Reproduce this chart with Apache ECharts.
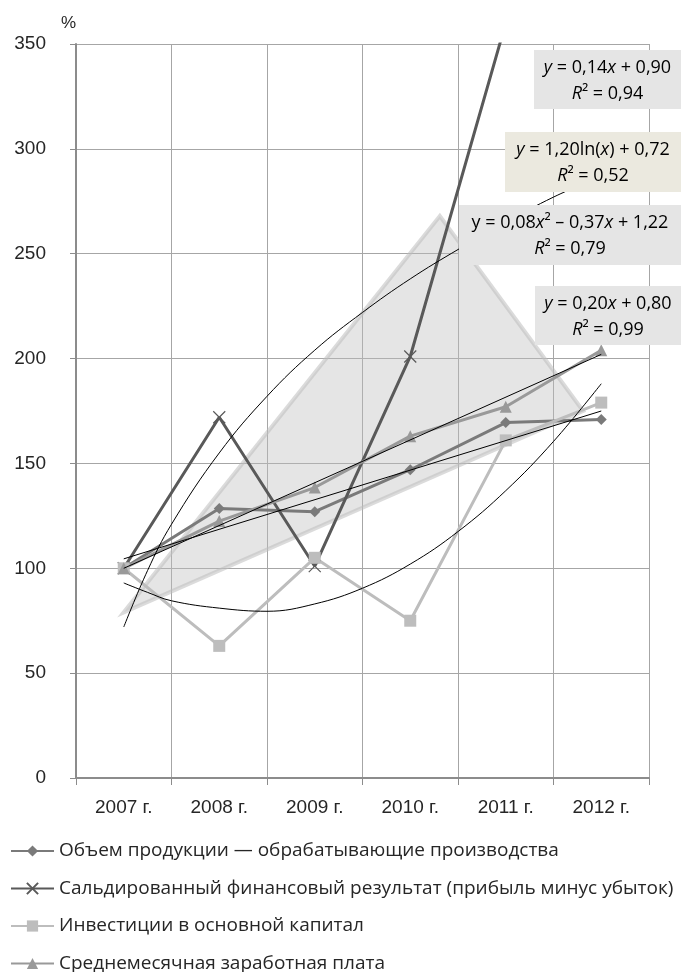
<!DOCTYPE html>
<html><head><meta charset="utf-8">
<script src="https://cdn.jsdelivr.net/npm/echarts@6/dist/echarts.min.js"></script>
<style>html,body{margin:0;padding:0;background:#fff}#c{width:681px;height:972px}</style>
</head><body><div id="c"></div><script>
// ---- data ----
const years = ['2007 г.', '2008 г.', '2009 г.', '2010 г.', '2011 г.', '2012 г.'];
const seriesNames = [
  'Объем продукции — обрабатывающие производства',
  'Сальдированный финансовый результат (прибыль минус убыток)',
  'Инвестиции в основной капитал',
  'Среднемесячная заработная плата'
];
const production = [100, 128.5, 127, 147, 169.5, 171];
const finResult = [100, 172, 101, 201, 360, 380];
const investment = [100, 63, 105, 75, 161, 179];
const wages = [100, 122.5, 138.5, 163, 177, 204];
// straight trend lines: end values read at 2007 and 2012
const trendProduction = [104.5, null, null, null, null, 175];
const trendWages = [100, null, null, null, null, 202];
// curved trend lines: positions in category-index units and values (%)
const curveX = [0, 0.25, 0.5, 1, 1.5, 2, 2.5, 3, 3.5, 4, 4.5, 5];
const trendFinResult = [72, 99, 121, 155, 182, 204, 222, 238, 252, 265, 277, 287];
const trendInvestment = [93, 88.5, 84.5, 81, 79.5, 83, 90.5, 102, 117.5, 137, 160.5, 188];
// shaded triangle (x in category-index units, y in %)
const shapeX = [0, 3.31, 4.81];
const shapeY = [79, 268, 175];
// y axis
const yMin = 0, yMax = 350, yStep = 50;
const yName = '%';
// equation labels
const equations = [
  '{i|y} = 0,14{i|x} + 0,90\n{i|R}² = 0,94',
  '{i|y} = 1,20ln({i|x}) + 0,72\n{i|R}² = 0,52',
  'y = 0,08{i|x}² – 0,37{i|x} + 1,22\n{i|R}² = 0,79',
  '{i|y} = 0,20{i|x} + 0,80\n{i|R}² = 0,99'
];

// ---- chart ----
const chart = echarts.init(document.getElementById('c'), null, {renderer: 'canvas'});
const axisCol = '#8c8c8c', gridCol = '#a6a6a6', txt = '#262626';
const eqFont = '"Open Sans", "Noto Sans", sans-serif';
const axFont = '"Liberation Sans", Arial, sans-serif';

function eqBox(i, x, y, w, h, fill) {
  return [
    {type: 'rect', z: 50, shape: {x: x, y: y, width: w, height: h}, style: {fill: fill}},
    {type: 'text', z: 51, x: x + w / 2, y: y + h / 2 + 1,
      style: {
        text: equations[i], align: 'center', verticalAlign: 'middle',
        fontSize: 18, fontFamily: eqFont, fill: '#000', lineHeight: 26,
        rich: {i: {fontStyle: 'italic', fontSize: 18, fontFamily: eqFont, fill: '#000', lineHeight: 26}}
      }}
  ];
}
function pairs(xs, ys) { return xs.map(function (x, k) { return [x, ys[k]]; }); }

const option = {
  backgroundColor: '#fff',
  animation: false,
  grid: {left: 76, right: 32, top: 44, bottom: 194, containLabel: false},
  xAxis: [{
    type: 'category', data: years, boundaryGap: true,
    axisLine: {lineStyle: {color: axisCol, width: 2}},
    axisTick: {show: true, length: 7, lineStyle: {color: axisCol}},
    splitLine: {show: true, lineStyle: {color: gridCol, width: 1}},
    axisLabel: {margin: 20, fontSize: 19, fontFamily: axFont, color: txt}
  }, {
    type: 'value', min: -0.5, max: 5.5, show: false
  }],
  yAxis: {
    type: 'value', min: yMin, max: yMax, interval: yStep,
    name: yName, nameLocation: 'end', nameGap: 12,
    nameTextStyle: {fontSize: 17, fontFamily: axFont, color: txt, align: 'right'},
    axisLine: {show: true, onZero: false, lineStyle: {color: axisCol, width: 2}},
    axisTick: {show: true, length: 6, lineStyle: {color: axisCol}},
    splitLine: {show: true, lineStyle: {color: gridCol, width: 1}},
    axisLabel: {margin: 30, fontSize: 19, fontFamily: axFont, color: txt}
  },
  legend: {
    data: seriesNames, orient: 'vertical', left: 10, top: 841, height: 200, padding: 0,
    itemWidth: 43, itemHeight: 14, itemGap: 17.5,
    textStyle: {fontSize: 19, fontFamily: eqFont, color: txt, lineHeight: 20}
  },
  graphic: [].concat(
    eqBox(0, 534, 50, 147, 59, '#e5e5e5'),
    eqBox(1, 505, 132, 176, 60, '#ebe9df'),
    eqBox(2, 459, 205, 222, 60, '#e5e5e5'),
    eqBox(3, 535, 286, 146, 59, '#e5e5e5')
  ),
  series: [
    {
      type: 'custom', xAxisIndex: 1, z: 1, silent: true, data: [0],
      renderItem: function (params, api) {
        const pts = shapeX.map(function (x, k) { return api.coord([x, shapeY[k]]); });
        return {type: 'polygon', shape: {points: pts},
          style: {fill: 'rgba(190,190,190,0.40)', stroke: 'rgba(190,190,190,0.55)', lineWidth: 4, lineJoin: 'miter'}};
      }
    },
    {
      name: seriesNames[0], type: 'line', data: production, z: 3,
      symbol: 'diamond', symbolSize: 11,
      itemStyle: {color: '#7a7a7a'}, lineStyle: {color: '#7a7a7a', width: 3}
    },
    {
      name: seriesNames[1], type: 'line', data: finResult, z: 3,
      symbol: 'path://M0,0L10,10M0,10L10,0', symbolSize: 12,
      itemStyle: {color: '#595959', borderColor: '#595959', borderWidth: 1.2},
      lineStyle: {color: '#595959', width: 3}
    },
    {
      name: seriesNames[2], type: 'line', data: investment, z: 3,
      symbol: 'rect', symbolSize: 12,
      itemStyle: {color: '#bdbdbd'}, lineStyle: {color: '#bdbdbd', width: 3}
    },
    {
      name: seriesNames[3], type: 'line', data: wages, z: 3,
      symbol: 'triangle', symbolSize: 12,
      itemStyle: {color: '#999999'}, lineStyle: {color: '#999999', width: 3}
    },
    {type: 'line', data: trendProduction, connectNulls: true, showSymbol: false, silent: true, z: 4,
      lineStyle: {color: '#000', width: 1}},
    {type: 'line', xAxisIndex: 1, data: pairs(curveX, trendFinResult), smooth: 0.4, showSymbol: false, silent: true, z: 4,
      lineStyle: {color: '#000', width: 1}},
    {type: 'line', xAxisIndex: 1, data: pairs(curveX, trendInvestment), smooth: 0.4, showSymbol: false, silent: true, z: 4,
      lineStyle: {color: '#000', width: 1}},
    {type: 'line', data: trendWages, connectNulls: true, showSymbol: false, silent: true, z: 4,
      lineStyle: {color: '#000', width: 1}}
  ]
};
chart.setOption(option);
</script></body></html>
